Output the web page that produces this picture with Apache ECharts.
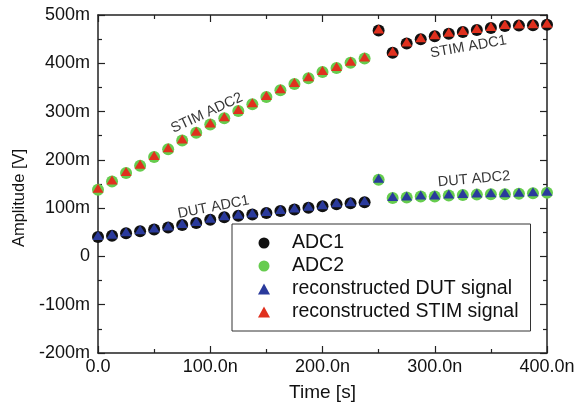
<!DOCTYPE html>
<html>
<head>
<meta charset="utf-8">
<script src="https://cdn.jsdelivr.net/npm/echarts@6/dist/echarts.min.js"></script>
<style>
  html, body { margin: 0; padding: 0; background: #fff; }
  #chart { width: 580px; height: 411px; }
</style>
</head>
<body>
<div id="chart"></div>
<script>
// sample times in ns, amplitudes in mV
const timeNs = [0, 12.5, 25, 37.5, 50, 62.5, 75, 87.5, 100, 112.5, 125, 137.5, 150, 162.5, 175, 187.5,
  200, 212.5, 225, 237.5, 250, 262.5, 275, 287.5, 300, 312.5, 325, 337.5, 350, 362.5, 375, 387.5, 400];
const stimMv = [138, 155, 173, 188, 206, 222, 240, 256, 273, 286, 301, 315, 330, 344, 357, 369,
  382, 390, 401, 410, 468, 422, 441, 450, 456, 461, 465, 469, 473, 477, 478, 479, 480];
const dutMv = [40, 43, 48, 52, 56, 60, 65, 69, 76, 81, 84, 87, 90, 94, 97, 101,
  104, 108, 110, 112, 159, 121, 122, 124, 124, 126, 127, 128, 129, 129, 130, 131, 132];
// from this sample on, ADC1 samples STIM and ADC2 samples DUT
const swapIndex = 20;

const seriesNames = ["ADC1", "ADC2", "reconstructed DUT signal", "reconstructed STIM signal"];
const annotationTexts = ["STIM ADC2", "STIM ADC1", "DUT ADC1", "DUT ADC2"];

const font = "'Liberation Sans', Arial, sans-serif";
const pts = (vals, from, to) => timeNs.slice(from, to).map((t, i) => [t, vals[from + i]]);

const adc1 = pts(dutMv, 0, swapIndex).concat(pts(stimMv, swapIndex));
const adc2 = pts(stimMv, 0, swapIndex).concat(pts(dutMv, swapIndex));

const annotations = [
  { name: annotationTexts[0], value: [97, 297], label: { rotate: 25 } },
  { name: annotationTexts[1], value: [330, 434], label: { rotate: 10 } },
  { name: annotationTexts[2], value: [103, 102], label: { rotate: 11 } },
  { name: annotationTexts[3], value: [335, 160], label: { rotate: 5 } },
];

const axisLine = { show: true, onZero: false, lineStyle: { color: "#222", width: 1.5 } };
const tick = { show: true, inside: true, length: 7, lineStyle: { color: "#222", width: 1.2 } };
const minor = { show: true, splitNumber: 2, length: 4, lineStyle: { color: "#222", width: 1.2 } };

const myChart = echarts.init(document.getElementById("chart"));

const option = {
  backgroundColor: "#fff",
  animation: false,
  grid: { left: 98, right: 33, top: 15, bottom: 58, outerBoundsMode: "none" },
  xAxis: [
    {
      type: "value", min: 0, max: 400, interval: 100,
      name: "Time [s]", nameLocation: "middle", nameGap: 30,
      nameTextStyle: { fontSize: 19, color: "#111", fontFamily: font },
      axisLine, axisTick: tick, minorTick: minor, splitLine: { show: false },
      axisLabel: {
        fontSize: 18, color: "#111", fontFamily: font, margin: 5,
        formatter: (v) => (v === 0 ? "0.0" : v.toFixed(1) + "n"),
      },
    },
    {
      type: "value", position: "top", min: 0, max: 400, interval: 100,
      axisLine, axisTick: tick, minorTick: minor, splitLine: { show: false },
      axisLabel: { show: false },
    },
  ],
  yAxis: [
    {
      type: "value", min: -200, max: 500, interval: 100,
      name: "Amplitude [V]", nameLocation: "middle", nameGap: 59,
      nameTextStyle: { fontSize: 16.5, color: "#111", fontFamily: font, padding: [0, 28, 0, 0] },
      axisLine, axisTick: tick, minorTick: minor, splitLine: { show: false },
      axisLabel: {
        fontSize: 18, color: "#111", fontFamily: font, margin: 8,
        formatter: (v) => (v === 0 ? "0" : v + "m"),
      },
    },
    {
      type: "value", position: "right", min: -200, max: 500, interval: 100,
      axisLine, axisTick: tick, minorTick: minor, splitLine: { show: false },
      axisLabel: { show: false },
    },
  ],
  legend: {
    data: [
      { name: seriesNames[0], icon: "circle" },
      { name: seriesNames[1], icon: "circle" },
      { name: seriesNames[2], icon: "triangle", itemStyle: { color: "#2a3a9c" } },
      { name: seriesNames[3], icon: "triangle", itemStyle: { color: "#e0301e" } },
    ],
    orient: "vertical",
    left: 232,
    top: 224,
    itemWidth: 12,
    itemHeight: 11,
    itemGap: 3,
    padding: [9, 12, 9, 26],
    borderColor: "#333",
    borderWidth: 1,
    backgroundColor: "#fff",
    selectedMode: false,
    textStyle: { fontSize: 19.5, color: "#111", fontFamily: font, padding: [0, 0, 0, 17] },
  },
  series: [
    {
      name: seriesNames[0], type: "scatter", data: adc1,
      symbol: "circle", symbolSize: 12, itemStyle: { color: "#111", opacity: 1 },
    },
    {
      name: seriesNames[1], type: "scatter", data: adc2,
      symbol: "circle", symbolSize: 12, itemStyle: { color: "#66cc4e", opacity: 1 },
    },
    {
      name: seriesNames[2], type: "scatter", data: pts(dutMv, 0),
      symbol: "triangle", symbolSize: [11, 9], symbolOffset: [0, -1.5],
      itemStyle: { color: "#2a3a9c", opacity: 1 },
    },
    {
      name: seriesNames[3], type: "scatter", data: pts(stimMv, 0),
      symbol: "triangle", symbolSize: [11, 9], symbolOffset: [0, -1.5],
      itemStyle: { color: "#e0301e", opacity: 1 },
    },
    {
      // text annotations next to the traces
      name: "annotations", type: "scatter", data: annotations, silent: true,
      symbolSize: 1, itemStyle: { color: "rgba(0,0,0,0)" },
      label: {
        show: true, position: "inside", formatter: "{b}",
        fontSize: 14.5, color: "#000", fontFamily: font,
      },
    },
  ],
};

myChart.setOption(option);
</script>
</body>
</html>
